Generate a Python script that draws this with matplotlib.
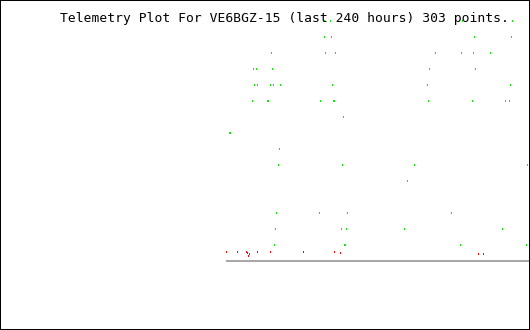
import numpy as np
import matplotlib
matplotlib.use('Agg')
import matplotlib.pyplot as plt
from matplotlib.patches import Rectangle

#----------------------------------------------------------------------------------------
# data: x = sample slot (0 = oldest), y = telemetry level
title = 'Telemetry Plot For VE6BGZ-15 (last 240 hours) 303 points.'

n_slots = 304

green_slot = [98, 104, 236, 286,
              98, 105, 248, 285,
              45, 99, 109, 209, 235, 247, 264,
              27, 30, 46, 203, 249,
              28, 31, 44, 47, 54, 106, 201, 284,
              26, 41, 42, 94, 107, 108, 202, 246, 279, 283,
              117,
              3, 4,
              53,
              52, 116, 188, 301,
              181,
              50, 93, 121, 225,
              49, 115, 120, 178, 276,
              48, 118, 119, 234, 300]
green_val = [15, 15, 15, 15,
             14, 14, 14, 14,
             13, 13, 13, 13, 13, 13, 13,
             12, 12, 12, 12, 12,
             11, 11, 11, 11, 11, 11, 11, 11,
             10, 10, 10, 10, 10, 10, 10, 10, 10, 10,
             9,
             8, 8,
             7,
             6, 6, 6, 6,
             5,
             3, 3, 3, 3,
             2, 2, 2, 2, 2,
             1, 1, 1, 1, 1]

red_slot = [0, 11, 20, 21, 23, 22, 31, 44, 77, 108, 114, 252, 257]
red_val = [0.56, 0.56, 0.56, 0.5, 0.44, 0.31, 0.56, 0.56, 0.56, 0.56, 0.5, 0.44, 0.44]

#----------------------------------------------------------------------------------------
W, H, DPI = 530, 330, 100
px = 72.0 / DPI          # one pixel in points
unit_px = 16.0           # pixels per level
base_px = 261.0          # baseline, pixels from top

fig = plt.figure(figsize=(W / DPI, H / DPI), dpi=DPI)
fig.patch.set_facecolor('white')

ax = fig.add_axes([226 / W, 0, n_slots / W, 1])
ax.set_xlim(-0.5, n_slots - 0.5)
ax.set_ylim(-(H - base_px) / unit_px, base_px / unit_px)
ax.axis('off')

ax.axhline(0, color='#a8a8a8', lw=2 * px, antialiased=False)

# each sample is a 1x2 pixel block
dot_h = 2.0 / unit_px
gv = np.array(green_val, dtype=float)
rv = np.array(red_val, dtype=float)
ax.bar(green_slot, dot_h, bottom=gv - dot_h / 2, width=1.0, color='#00ee00',
       linewidth=0, antialiased=False)
ax.bar(red_slot, dot_h, bottom=rv - dot_h / 2, width=1.0, color='#ff0000',
       linewidth=0, antialiased=False)

fig.text(59.5 / W, 1 - 22 / H, title, family='DejaVu Sans Mono', fontsize=9.4,
         va='baseline', ha='left', color='black')

fig.patches.append(Rectangle((0, 0), 1, 1, transform=fig.transFigure, fill=False,
                             edgecolor='black', lw=2 * px))

fig.savefig('out.png', dpi=DPI)
